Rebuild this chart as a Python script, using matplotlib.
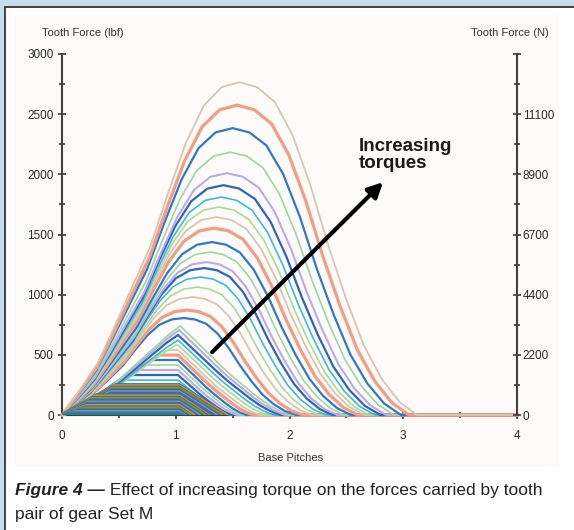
import matplotlib.pyplot as plt
from matplotlib.patches import Rectangle

plt.rcParams['font.family'] = ['Liberation Sans', 'DejaVu Sans']

# shape of the curves (fraction of rise / fall span)
u_read = [0.0, 0.1, 0.2, 0.3, 0.4, 0.5, 0.6, 0.7, 0.8, 0.9, 1.0]
bell_rise = [0.0, 0.075, 0.155, 0.27, 0.39, 0.51, 0.67, 0.82, 0.93, 0.985, 1.0]
bell_fall = [1.0, 0.985, 0.94, 0.84, 0.69, 0.51, 0.35, 0.21, 0.11, 0.04, 0.0]
sharp_rise = [0.0, 0.05, 0.12, 0.21, 0.31, 0.42, 0.54, 0.66, 0.78, 0.9, 1.0]
sharp_fall = [1.0, 0.88, 0.76, 0.64, 0.52, 0.41, 0.31, 0.21, 0.12, 0.05, 0.0]

# loaded curves, highest torque first
peak_lbf = [2766, 2575, 2384, 2184, 2010, 1910, 1811, 1728, 1645, 1553, 1437,
            1354, 1271, 1221, 1146, 1063, 980, 872, 806, 740, 706, 665, 623,
            581, 540, 498, 457, 415, 374, 332, 290]
top_from = [1.56, 1.54, 1.50, 1.48, 1.45, 1.42, 1.40, 1.38, 1.36, 1.34, 1.32,
            1.30, 1.27, 1.25, 1.22, 1.19, 1.15, 1.10, 1.07, 1.04, 1.03, 1.02,
            1.02, 1.00, 0.93, 0.86, 0.79, 0.72, 0.64, 0.57, 0.50]
top_to = [1.56, 1.54, 1.50, 1.48, 1.45, 1.42, 1.40, 1.38, 1.36, 1.34, 1.32,
          1.30, 1.27, 1.25, 1.22, 1.19, 1.15, 1.10, 1.07, 1.04, 1.03, 1.02,
          1.02, 1.02, 1.02, 1.02, 1.02, 1.02, 1.02, 1.02, 1.02]
zero_at = [3.12, 3.05, 2.98, 2.92, 2.85, 2.80, 2.75, 2.70, 2.66, 2.60, 2.54,
           2.48, 2.42, 2.38, 2.32, 2.26, 2.20, 2.12, 2.06, 2.00, 1.96, 1.92,
           1.86, 1.80, 1.74, 1.68, 1.62, 1.58, 1.54, 1.50, 1.48]
n_bell = 19

# light-load curves (flat tops)
band_lbf = [250, 240, 230, 220, 210, 200, 190, 180, 165, 155, 145, 135, 125,
            115, 105, 95, 85, 75, 65, 55, 45, 35, 25, 15, 5]
band_from = [0.47, 0.46, 0.45, 0.45, 0.44, 0.44, 0.43, 0.43, 0.30, 0.29, 0.28,
             0.27, 0.26, 0.25, 0.24, 0.23, 0.22, 0.21, 0.20, 0.18, 0.16, 0.14,
             0.12, 0.10, 0.08]
band_to = 1.03
band_zero = [1.45, 1.44, 1.42, 1.40, 1.38, 1.36, 1.35, 1.33, 1.30, 1.28, 1.27,
             1.25, 1.23, 1.22, 1.20, 1.18, 1.17, 1.15, 1.13, 1.12, 1.10, 1.09,
             1.07, 1.06, 1.05]

lbf_ticks = [0, 500, 1000, 1500, 2000, 2500, 3000]
newton_labels = ['0', '2200', '4400', '6700', '8900', '11100', '']
x_ticks = [0, 1, 2, 3, 4]

line_colors = ['#d8c6ae', '#f59c82', '#2f78cf', '#9fd89c', '#bbaaea', '#2d63c3', '#3ebada', '#a8dc98']
line_widths = [1.3, 2.3, 1.6, 1.2, 1.5, 1.6, 1.2, 1.2]
band_colors = ['#1d8494', '#e8913c', '#8c5b4b', '#55a565', '#667788', '#2e7a5c', '#9a8ad0', '#3a6fc0']

fig = plt.figure(figsize=(5.74, 5.30), dpi=100, facecolor='#c6ddf0')
fig.patches.append(Rectangle((5 / 574, -0.05), 1.1, 1 - 7 / 530 + 0.05, transform=fig.transFigure,
                             facecolor='white', edgecolor='#333333', lw=1.3, zorder=-5))
fig.patches.append(Rectangle((14 / 574, 1 - 467 / 530), 545 / 574, 452 / 530, transform=fig.transFigure,
                             facecolor='#fdfbf9', edgecolor='none', zorder=-4))

ax = fig.add_axes([62 / 574, 115 / 530, 455 / 574, 361 / 530])
ax.set_facecolor('none')

# lowest curves first so the outer curve ends up on top
for i in reversed(range(len(peak_lbf))):
    p = peak_lbf[i]
    if i < n_bell:
        rise, fall = bell_rise, bell_fall
    else:
        rise, fall = sharp_rise, sharp_fall
    xs = [top_from[i] * u for u in u_read] + [top_to[i] + (zero_at[i] - top_to[i]) * u for u in u_read] + [4]
    ys = [p * r for r in rise] + [p * f for f in fall] + [0]
    ax.plot(xs, ys, color=line_colors[i % 8], lw=line_widths[i % 8], zorder=3, clip_on=False)

for j, b in enumerate(band_lbf):
    xs = [0, band_from[j], band_to, band_zero[j]]
    ys = [0, b, b, 0]
    ax.plot(xs, ys, color=band_colors[j % 8], lw=2.6, zorder=4, solid_joinstyle='miter')

ax.annotate('', xy=(2.822, 1935), xytext=(1.32, 523),
            arrowprops=dict(arrowstyle='-|>', color='black', lw=3, mutation_scale=22,
                            shrinkA=0, shrinkB=0), zorder=6)
ax.text(2.61, 2305, 'Increasing\ntorques', fontsize=13.5, fontweight='bold',
        color='#1a1a1a', ha='left', va='top', linespacing=1.0, zorder=6)

ax.set_xlim(0, 4)
ax.set_ylim(0, 3000)
ax.set_xticks(x_ticks)
ax.set_xticks([0.5, 1.5, 2.5, 3.5], minor=True)
ax.set_yticks(lbf_ticks)
ax.set_yticks([250, 750, 1250, 1750, 2250, 2750], minor=True)
ax.tick_params(which='major', direction='inout', length=6, width=1.2, color='#3a3a3a',
               labelsize=8.5, labelcolor='#2a2a2a')
ax.tick_params(which='minor', direction='inout', length=5, width=1.2, color='#3a3a3a')
ax.tick_params(axis='y', pad=3)
ax.tick_params(axis='x', pad=8)
for s in ['top', 'right']:
    ax.spines[s].set_visible(False)
for s in ['left', 'bottom']:
    ax.spines[s].set_color('#404040')
    ax.spines[s].set_linewidth(1.5)

tw = ax.twinx()
tw.set_ylim(0, 3000)
tw.set_yticks(lbf_ticks)
tw.set_yticklabels(newton_labels)
tw.set_yticks([250, 750, 1250, 1750, 2250, 2750], minor=True)
tw.tick_params(which='major', direction='inout', length=6, width=1.2, color='#3a3a3a',
               labelsize=8.5, labelcolor='#2a2a2a', pad=1)
tw.tick_params(which='minor', direction='inout', length=5, width=1.2, color='#3a3a3a')
for s in ['top', 'left', 'bottom']:
    tw.spines[s].set_visible(False)
tw.spines['right'].set_color('#404040')
tw.spines['right'].set_linewidth(1.5)

fig.text(83 / 574, 1 - 33 / 530, 'Tooth Force (lbf)', fontsize=8, color='#333333', ha='center', va='center')
fig.text(510 / 574, 1 - 33 / 530, 'Tooth Force (N)', fontsize=8, color='#333333', ha='center', va='center')
fig.text(291 / 574, 1 - 458 / 530, 'Base Pitches', fontsize=8, color='#333333', ha='center', va='center')

t1 = fig.text(15 / 574, 1 - 491 / 530, 'Figure 4 \u2014', fontsize=12.5, fontweight='bold',
              fontstyle='italic', color='#222222', va='center')
ax.annotate(' Effect of increasing torque on the forces carried by tooth', xy=(1, 0), xycoords=t1,
            fontsize=12.5, color='#222222', ha='left', va='bottom', annotation_clip=False)
fig.text(15 / 574, 1 - 515 / 530, 'pair of gear Set M', fontsize=12.5, color='#222222', va='center')

fig.savefig('out.png', dpi=100, facecolor=fig.get_facecolor())
